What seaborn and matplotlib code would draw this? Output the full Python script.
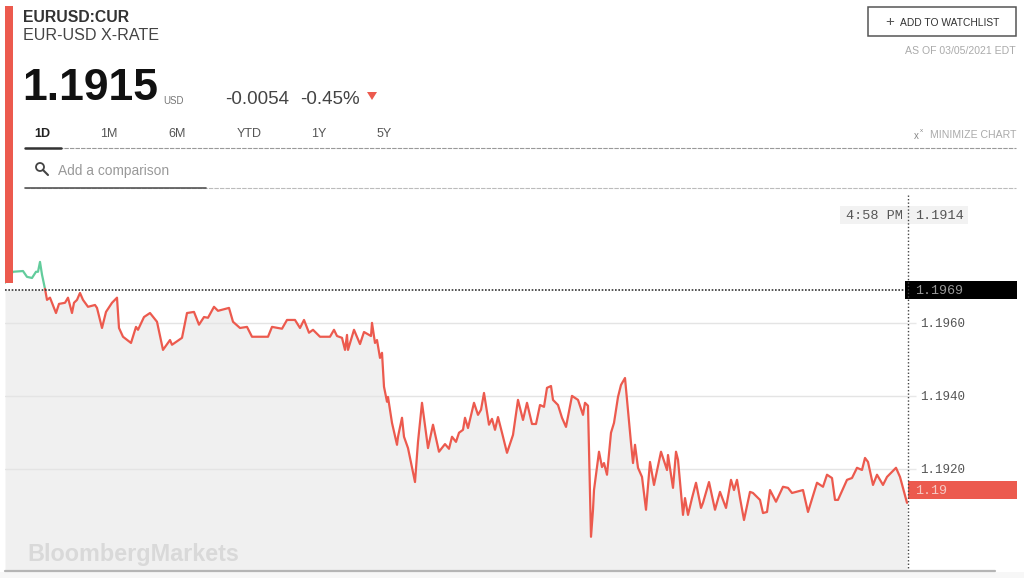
import numpy as np
import pandas as pd
import seaborn as sns
import matplotlib.pyplot as plt
from matplotlib.patches import Rectangle, Circle, Polygon

# Price path, split where it drops below the previous close
above_x = [5, 8, 13, 23, 27, 32, 36, 38, 40, 42, 45]
above_price = [1.19710, 1.19723, 1.19740, 1.19742, 1.19726, 1.19723, 1.19740, 1.19740, 1.19767, 1.19732, 1.19693]

below_x = [45, 47, 50, 52, 56, 59, 65, 68, 72, 74, 77, 80, 83, 88, 95, 97, 102, 106, 112, 117, 119, 123, 131, 136, 138,
           144, 150, 157, 163, 170, 172, 182, 187, 194, 199, 204, 208, 214, 218, 229, 233, 240, 247, 252, 268, 272,
           282, 287, 295, 300, 304, 309, 313, 320, 330, 334, 337, 342, 345, 347, 348, 354, 360, 364, 371, 372,
           375, 377, 380, 382, 384, 387, 388, 392, 397, 398, 402, 404, 408, 415, 418, 422, 428, 433, 439, 445, 449,
           452, 456, 459, 463, 465, 468, 474, 478, 481, 484, 489, 492, 495, 498, 502, 507, 513, 518, 523, 527, 532,
           536, 540, 544, 547, 551, 553, 558, 562, 566, 572, 578, 583, 585, 588, 591, 593, 594, 599, 602, 604, 607,
           611, 614, 618, 621, 625, 631, 633, 635, 638, 642, 646, 650, 654, 661, 667, 668,
           673, 676, 678, 683, 685, 688, 692, 696, 701, 703, 709, 715, 720, 726, 731, 734, 737, 740, 744, 750, 753,
           760, 763, 767, 770, 776, 783, 788, 792, 803, 808, 817, 823, 827, 832, 835, 838, 847, 852, 857, 862, 865,
           868, 873, 877, 883, 887, 896, 900, 903, 907]
below_price = [1.19693, 1.19663, 1.19669, 1.19655, 1.19627, 1.19652, 1.19655, 1.19669, 1.19627, 1.19655, 1.19663,
               1.19682, 1.19663, 1.19644, 1.19649, 1.19641, 1.19586, 1.19630, 1.19655, 1.19669, 1.19586, 1.19562,
               1.19545, 1.19589, 1.19581, 1.19616, 1.19627, 1.19603, 1.19526, 1.19553, 1.19540, 1.19559, 1.19627,
               1.19630, 1.19595, 1.19616, 1.19614, 1.19644, 1.19633, 1.19641, 1.19603, 1.19586, 1.19589, 1.19562,
               1.19562, 1.19589, 1.19584, 1.19608, 1.19608, 1.19586, 1.19608, 1.19573, 1.19581, 1.19562, 1.19562,
               1.19581, 1.19564, 1.19559, 1.19526, 1.19567, 1.19526, 1.19581, 1.19542, 1.19575, 1.19564, 1.19600,
               1.19545, 1.19553, 1.19504, 1.19518, 1.19425, 1.19384, 1.19397, 1.19326, 1.19266, 1.19288, 1.19340,
               1.19288, 1.19257, 1.19164, 1.19274, 1.19381, 1.19257, 1.19321, 1.19247, 1.19268, 1.19255, 1.19288,
               1.19274, 1.19299, 1.19307, 1.19340, 1.19312, 1.19381, 1.19348, 1.19362, 1.19408, 1.19321, 1.19337,
               1.19307, 1.19342, 1.19299, 1.19244, 1.19293, 1.19389, 1.19334, 1.19381, 1.19323, 1.19323, 1.19375,
               1.19370, 1.19422, 1.19427, 1.19389, 1.19375, 1.19340, 1.19315, 1.19400, 1.19389, 1.19348, 1.19381,
               1.19373, 1.19014, 1.19088, 1.19142, 1.19247, 1.19205, 1.19216, 1.19184, 1.19299, 1.19326, 1.19397,
               1.19430, 1.19449, 1.19271, 1.19216, 1.19266, 1.19203, 1.19178, 1.19088, 1.19219, 1.19156, 1.19247,
               1.19197, 1.19238, 1.19148, 1.19247, 1.19225, 1.19074, 1.19120, 1.19074, 1.19120, 1.19162, 1.19093,
               1.19107, 1.19164, 1.19088, 1.19137, 1.19093, 1.19170, 1.19142, 1.19170, 1.19120, 1.19060, 1.19137,
               1.19134, 1.19115, 1.19079, 1.19082, 1.19142, 1.19110, 1.19151, 1.19148, 1.19134, 1.19142, 1.19082,
               1.19162, 1.19151, 1.19184, 1.19175, 1.19115, 1.19115, 1.19170, 1.19175, 1.19203, 1.19197, 1.19230,
               1.19219, 1.19156, 1.19184, 1.19156, 1.19178, 1.19203, 1.19178, 1.19148, 1.19107]

prev_close = 1.1969
tick_values = [1.1960, 1.1940, 1.1920]
tick_labels = ['1.1960', '1.1940', '1.1920']
tabs = ['1D', '1M', '6M', 'YTD', '1Y', '5Y']
tab_x = [42, 109, 177, 249, 319, 384]

RED = '#ec5a4e'
GREEN = '#62cc9c'
SANS = 'Liberation Sans'
MONO = 'Liberation Mono'

sns.set_theme(style='white')
plt.rcParams['font.family'] = [SANS, 'DejaVu Sans']

fig = plt.figure(figsize=(10.24, 5.78), dpi=100)
ax = fig.add_axes([5 / 1024, 1 - 570 / 578, 903 / 1024, 380 / 578])

# shaded area only sits under the previous close line
all_x = np.array(above_x + below_x)
all_price = np.array(above_price + below_price)
ax.fill_between(all_x, np.minimum(all_price, prev_close), 1.18923, color='#f0f0f0', lw=0, zorder=1)

above_df = pd.DataFrame({'x': above_x, 'price': above_price})
below_df = pd.DataFrame({'x': below_x, 'price': below_price})
sns.lineplot(data=above_df, x='x', y='price', color=GREEN, lw=1.6, ax=ax, zorder=3, errorbar=None)
sns.lineplot(data=below_df, x='x', y='price', color=RED, lw=1.6, ax=ax, zorder=3, errorbar=None)
ax.axhline(prev_close, color='#333333', lw=1.2, ls=(0, (1, 1)), zorder=4)

ax.set_xlim(5, 908)
ax.set_ylim(1.18923, 1.19964)
ax.set_xlabel('')
ax.set_ylabel('')
ax.set_xticks([])
ax.yaxis.tick_right()
ax.set_yticks(tick_values)
ax.set_yticklabels(tick_labels, family=MONO, fontsize=9, color='#555555')
ax.tick_params(axis='y', length=6, width=1, color='#e8e8e8', pad=3, right=True)
ax.grid(axis='y', color='#e4e4e4', lw=1)
ax.set_axisbelow(False)
sns.despine(ax=ax, left=True, bottom=True, right=True, top=True)
ax.patch.set_alpha(0)

# page furniture drawn on a pixel-sized overlay
ov = fig.add_axes([0, 0, 1, 1])
ov.set_xlim(0, 1024)
ov.set_ylim(578, 0)
ov.axis('off')
ov.patch.set_alpha(0)

ov.add_patch(Rectangle((5, 6), 8, 277, color=RED, lw=0))
ov.text(23, 17, 'EURUSD:CUR', fontsize=11.3, fontweight='bold', color='#333333', va='center')
ov.text(23, 35, 'EUR-USD X-RATE', fontsize=11.6, color='#444444', va='center')
ov.text(22, 89, '1.1915', fontsize=32, fontweight='bold', color='#111111', va='center')
ov.text(163, 101, 'USD', fontsize=7, color='#777777', va='center')
ov.text(225, 100, '-0.0054', fontsize=13.5, color='#444444', va='center')
ov.text(300, 100, '-0.45%', fontsize=13.5, color='#444444', va='center')
ov.add_patch(Polygon([(367, 92), (377, 92), (372, 100)], color=RED, lw=0))

for label, x in zip(tabs, tab_x):
    ov.text(x, 134, label, fontsize=9, color='#222222' if label == '1D' else '#555555',
            fontweight='bold' if label == '1D' else 'normal', ha='center', va='center')
ov.plot([25, 1016], [148, 148], color='#999999', lw=0.8, ls=(0, (4, 1)))
ov.plot([25, 61], [148, 148], color='#333333', lw=1.8)

ov.add_patch(Circle((40, 167), 4, fill=False, ec='#444444', lw=1.3))
ov.plot([43, 48], [170, 175], color='#444444', lw=1.5)
ov.text(58, 171, 'Add a comparison', fontsize=9.9, color='#999999', va='center')
ov.plot([25, 1016], [188, 188], color='#bbbbbb', lw=0.8, ls=(0, (4, 1)))
ov.plot([25, 206], [188, 188], color='#555555', lw=1.2)

ov.add_patch(Rectangle((868, 7), 148, 29, fill=False, ec='#555555', lw=1.1))
ov.text(890, 22, '+', fontsize=11, color='#555555', ha='center', va='center')
ov.text(900, 23, 'ADD TO WATCHLIST', fontsize=7.4, color='#333333', va='center')
ov.text(1016, 51, 'AS OF 03/05/2021 EDT', fontsize=7.6, color='#aaaaaa', ha='right', va='center')
ov.text(1016, 135, 'MINIMIZE CHART', fontsize=7.6, color='#aaaaaa', ha='right', va='center')
ov.text(916, 136, 'x', fontsize=7, color='#888888', ha='center', va='center')
ov.text(921, 131, 'x', fontsize=4.5, color='#888888', ha='center', va='center')

# crosshair readout
ov.add_patch(Rectangle((840, 206), 128, 18, color='#f2f2f2', lw=0))
ov.text(846, 216, '4:58 PM', family=MONO, fontsize=9.7, color='#555555', va='center')
ov.text(915, 216, '1.1914', family=MONO, fontsize=9.7, color='#555555', va='center')
ov.plot([908, 908], [195, 572], color='#444444', lw=1, ls=(0, (1, 1.5)))

ov.add_patch(Rectangle((905, 281), 112, 18, color='#000000', lw=0))
ov.text(915, 291, '1.1969', family=MONO, fontsize=9.6, color='#999999', va='center')
ov.add_patch(Rectangle((908, 481), 109, 18, color=RED, lw=0))
ov.text(915, 491, '1.19', family=MONO, fontsize=9.6, color='#f6c9c4', va='center')

ov.text(27, 555, 'BloombergMarkets', fontsize=16.8, fontweight='bold', color='#d9d9d9', va='center')
ov.add_patch(Rectangle((0, 572), 1024, 6, color='#f7f7f7', lw=0))
ov.plot([5, 995], [570.5, 570.5], color='#b5b5b5', lw=1.6)

fig.savefig('out.png', dpi=100)
